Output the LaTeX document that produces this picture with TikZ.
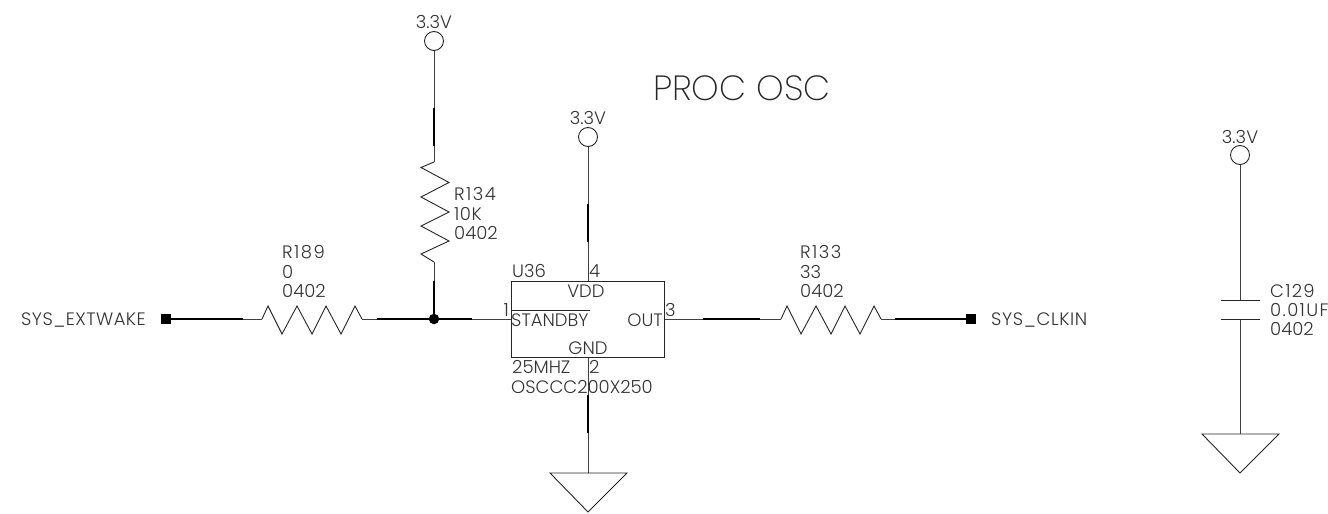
\documentclass[tikz,border=0pt]{standalone}
\usepackage{fontspec}
\setmainfont[UprightFont=* Light]{Poppins}
\newfontfamily\titlefont[UprightFont=* ExtraLight]{Poppins}
\tikzset{
  x=1pt,y=-1pt,
  wire/.style={draw=black!75,line width=1pt,line join=miter},
  thickwire/.style={draw=black,line width=1.2pt},
  part/.style={draw=black!85,line width=.9pt},
  pinlabel/.style={inner sep=0pt,text=black!80,font=\fontsize{18}{19}\selectfont,anchor=base west},
  spaced/.style={pinlabel,font=\fontsize{18}{19}\selectfont\addfontfeature{LetterSpace=#1}},
  pinc/.style={pinlabel,anchor=base},
  pinr/.style={pinlabel,anchor=base east},
  title/.style={inner sep=0pt,text=black!85,font=\titlefont\fontsize{35}{36}\selectfont,anchor=base west},
  pwr/.style={circle,draw=black!85,line width=.9pt,fill=none,minimum size=19pt,inner sep=0pt},
  port/.style={rectangle,fill=black,minimum size=10pt,inner sep=0pt},
  junction/.style={circle,fill=black,minimum size=10.5pt,inner sep=0pt},
  gnd/.style={part,line join=miter},
}
\begin{document}
\begin{tikzpicture}
\useasboundingbox (0,0) rectangle (1328,514);
% labels
\node[title] (title) at (653,100) {PROC OSC};
\node[pwr] (pa) at (434,41) {};
\node[pwr] (pb) at (588,137) {};
\node[pwr] (pc) at (1240,155) {};
\node[pinc] (pat) at (434,28) {3.3V};
\node[pinc] (pbt) at (588,124) {3.3V};
\node[pinc] (pct) at (1240,143.5) {3.3V};
\node[spaced=8] (r134a) at (454,200) {R134};
\node[spaced=3] (r134b) at (454,220) {10K};
\node[pinlabel] (r134c) at (454,239) {0402};
\node[spaced=8] (r189a) at (282,258) {R189};
\node[pinlabel] (r189b) at (282,278) {0};
\node[pinlabel] (r189c) at (282,297) {0402};
\node[spaced=8] (r133a) at (800,258) {R133};
\node[pinlabel] (r133b) at (800,278) {33};
\node[pinlabel] (r133c) at (800,297) {0402};
\node[spaced=7] (c1) at (1270,297) {C129};
\node[spaced=7.5] (c2) at (1270,316) {0.01UF};
\node[pinlabel] (c3) at (1270,335) {0402};
\node[spaced=2.5] (ext) at (21,325) {SYS\_EXTWAKE};
\node[spaced=3.5] (clk) at (991,325) {SYS\_CLKIN};
\node[pinlabel] (u) at (512,277) {U36};
\node[pinlabel] (p4) at (589,277) {4};
\node[pinc] (vdd) at (586,297) {VDD};
\node[pinr] (p1) at (509,316) {1};
\node[pinlabel] (p3) at (665,316) {3};
\node[pinlabel] (stby) at (511,326) {STANDBY};
\node[pinr] (out) at (663,326) {OUT};
\node[pinc] (gndt) at (588,354) {GND};
\node[pinlabel] (m) at (512,373) {25MHZ};
\node[pinlabel] (p2) at (589,373) {2};
\node[pinlabel] (pkg) at (511,393) {OSCCC200X250};
% IC
\node[draw=black!85,line width=1pt,minimum width=153pt,minimum height=76pt,inner sep=0pt] (ic) at (587.5,319) {};
\coordinate (barl) at (511,310);
\coordinate (barr) at (590,310);
\draw[part] (barl) -- (barr);
% ports
\node[port] (pl) at (166,319) {};
\node[port] (pr) at (971,319) {};
\node[junction] (j) at (434,319) {};
% coordinates
\coordinate (ra1) at (434,162);
\coordinate (ra2) at (434,262);
\coordinate (rb1) at (262,319);
\coordinate (rb2) at (362,319);
\coordinate (rc1) at (781,319);
\coordinate (rc2) at (881,319);
\coordinate (ga) at (588,473);
\coordinate (gc) at (1240,434);
\coordinate (c1t) at (1240,300);
\coordinate (c2t) at (1240,319);
% wires
\draw[wire] (pa.south) -- (ra1);
\draw[thickwire] (434,108) -- (434,146);
\draw[wire] (ra2) -- (j);
\draw[thickwire] (434,281) -- (j);
\draw[wire] (pb.south) -- (ic.north -| pb);
\draw[thickwire] (588,204) -- (588,242);
\draw[wire] (ic.south -| ga) -- (ga);
\draw[thickwire] (588,395) -- (588,433);
\draw[wire] (pl) -- (rb1);
\draw[thickwire] (171,319) -- (243,319);
\draw[wire] (rb2) -- (j);
\draw[thickwire] (377,319) -- (j);
\draw[wire] (j) -- (ic.west);
\draw[thickwire] (j) -- (472,319);
\draw[wire] (ic.east) -- (rc1);
\draw[thickwire] (703,319) -- (760,319);
\draw[wire] (rc2) -- (pr);
\draw[thickwire] (895,319) -- (966,319);
\draw[wire] (pc.south) -- (c1t);
\draw[wire] (c2t) -- (gc);
% capacitor
\draw[part] (1221,300) -- (1260,300);
\draw[part] (1221,319) -- (1260,319);
% resistors
\draw[part] (ra1) -- (421,167.5) -- (449,182.5) -- (421,197) -- (449,212) -- (421,226) -- (449,241) -- (421,254) -- (ra2);
\draw[part] (rb1) -- (268,306) -- (282,334) -- (297,306) -- (312,334) -- (326,306) -- (341,334) -- (355,306) -- (rb2);
\draw[part] (rc1) -- (787,306) -- (801,334) -- (816,306) -- (831,334) -- (845,306) -- (860,334) -- (874,306) -- (rc2);
% grounds
\draw[gnd] (550,473) -- (627,473) -- (588,512) -- cycle;
\draw[gnd] (1202,434) -- (1279,434) -- (1240,473) -- cycle;
\end{tikzpicture}
\end{document}
